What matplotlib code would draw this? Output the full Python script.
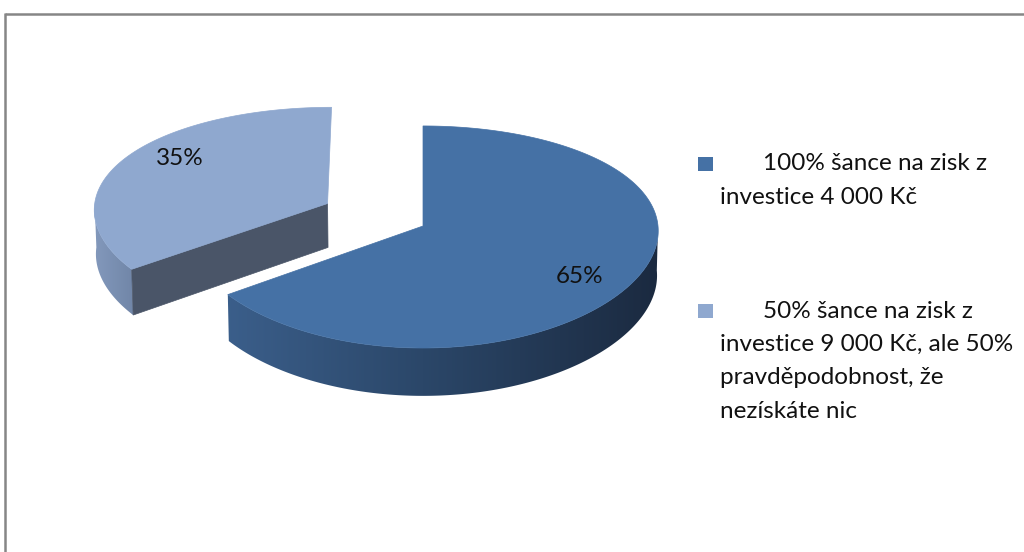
import numpy as np
import matplotlib
matplotlib.use("Agg")
import matplotlib.pyplot as plt
from matplotlib.patches import Polygon, Rectangle
from matplotlib.lines import Line2D
from matplotlib.colors import to_rgb

# ---- data ----
categories = [
    "100% šance na zisk z\ninvestice 4 000 Kč",
    "50% šance na zisk z\ninvestice 9 000 Kč, ale 50%\npravděpodobnost, že\nnezískáte nic",
]
values = [65, 35]
value_labels = ["65%", "35%"]

# ---- style ----
top_colors = ["#4571A5", "#8FA8CF"]
legend_colors = ["#4571A5", "#8FA8CF"]
side_stops = [["#3E6391", "#2B4769", "#1B2A40"], ["#8399BC", "#7186A8"]]
cut_colors = ["#2A3F5C", "#4A5568"]
explode = [0.0, 0.46]
FONT = "Lato"
FS = 17.5

W, H = 1024, 552
fig = plt.figure(figsize=(W / 100, H / 100), dpi=100)
ax = fig.add_axes([0, 0, 1, 1])

# ---- perspective camera for the 3-D pie ----
CX, CY = 423.0, 226.0          # screen position of pie centre
ELEV = np.radians(27.9)        # viewing elevation
DIST, FOC = 8.93, 2098.0       # camera distance / focal scale (vertical)
DIST_X, FOC_X = 20.0, 4700.0   # weaker horizontal convergence
THICK = 0.217                  # pie thickness (radius = 1)


def proj(X, Z, Y=0.0):
    """X: right, Z: depth (back positive), Y: up.  Returns screen (x, y)."""
    X, Z, Y = np.asarray(X, float), np.asarray(Z, float), np.asarray(Y, float)
    yc = Z * np.sin(ELEV) + Y * np.cos(ELEV)
    dz = Z * np.cos(ELEV) - Y * np.sin(ELEV)
    return CX + FOC_X * X / (DIST_X + dz), CY - FOC * yc / (DIST + dz)


def gradient_fill(poly_xy, stops, xmin, xmax):
    ys = poly_xy[:, 1]
    patch = Polygon(poly_xy, closed=True, facecolor="none", edgecolor="none")
    ax.add_patch(patch)
    n = 256
    t = np.linspace(0, 1, n)
    arr = np.array([to_rgb(s) for s in stops])
    pos = np.linspace(0, 1, len(stops))
    img = np.stack([np.interp(t, pos, arr[:, k]) for k in range(3)], axis=-1)[None, :, :]
    im = ax.imshow(img, extent=(xmin, xmax, ys.max() + 1, ys.min() - 1),
                   aspect="auto", interpolation="bilinear", zorder=1)
    im.set_clip_path(patch)


total = float(sum(values))
angles = []
a = 90.0
for v in values:
    sweep = 360.0 * v / total
    angles.append((a, a - sweep))
    a -= sweep

order = [1, 0]  # back slice first
for i in order:
    a1, a2 = angles[i]
    mid = np.radians((a1 + a2) / 2.0)
    c = np.array([explode[i] * np.cos(mid), explode[i] * np.sin(mid)])

    # outer side wall, front half only
    lo, hi = max(a2, -180.0), min(a1, 0.0)
    if hi > lo:
        th = np.radians(np.linspace(hi, lo, 300))
        X = c[0] + np.cos(th)
        Zd = c[1] + np.sin(th)
        tx, ty = proj(X, Zd, 0.0)
        bx, by = proj(X, Zd, -THICK)
        poly = np.column_stack([np.r_[tx, bx[::-1]], np.r_[ty, by[::-1]]])
        if i == 0:
            ex0, _ = proj(c[0] - 1, c[1])
            ex1, _ = proj(c[0] + 1, c[1])
        else:
            ex0, ex1 = poly[:, 0].min(), poly[:, 0].max()
        gradient_fill(poly, side_stops[i], ex0, ex1)

    # radial cut faces that face the viewer
    for edge_deg, is_start in ((a1, True), (a2, False)):
        e = np.radians(edge_deg)
        # slice interior lies at smaller angles than its start edge
        nrm = np.array([-np.sin(e), np.cos(e)]) if is_start else np.array([np.sin(e), -np.cos(e)])
        if nrm[1] < -0.05:  # points towards the viewer
            pX = [c[0], c[0] + np.cos(e), c[0] + np.cos(e), c[0]]
            pZ = [c[1], c[1] + np.sin(e), c[1] + np.sin(e), c[1]]
            pY = [0, 0, -THICK, -THICK]
            fx, fy = proj(pX, pZ, pY)
            ax.add_patch(Polygon(np.column_stack([fx, fy]), closed=True,
                                 facecolor=cut_colors[i], edgecolor=cut_colors[i],
                                 lw=0.5, zorder=2))

    # top face
    th = np.radians(np.linspace(a1, a2, 300))
    X = np.r_[c[0], c[0] + np.cos(th)]
    Zd = np.r_[c[1], c[1] + np.sin(th)]
    tx, ty = proj(X, Zd, 0.0)
    ax.add_patch(Polygon(np.column_stack([tx, ty]), closed=True,
                         facecolor=top_colors[i], edgecolor=top_colors[i],
                         lw=0.5, zorder=3))

    # data label
    la = mid - np.radians(7.0)
    lx, ly = proj(c[0] + 0.79 * np.cos(la), c[1] + 0.79 * np.sin(la), 0.0)
    ax.text(lx, ly, value_labels[i], ha="center", va="center",
            fontsize=FS, family=FONT, color="#111111", zorder=5)

# ---- legend (Excel-like, marker on first line) ----
leg_x_marker = 698
leg_x_text = 720
leg_indent = 763
line_h = 33.5
entry_top = [164, 311]
for i, lab in enumerate(categories):
    y0 = entry_top[i]
    ax.add_patch(Rectangle((leg_x_marker, y0 - 7.5), 14.5, 14.5,
                           facecolor=legend_colors[i], edgecolor="none", zorder=5))
    for j, line in enumerate(lab.split("\n")):
        x = leg_indent if j == 0 else leg_x_text
        ax.text(x, y0 + j * line_h, line, ha="left", va="center",
                fontsize=FS, family=FONT, color="#111111", zorder=5)

# ---- chart frame (top and left edges visible) ----
ax.add_line(Line2D([5, W + 5], [14, 14], color="#868686", lw=1.8, solid_capstyle="butt"))
ax.add_line(Line2D([5, 5], [13.2, H + 5], color="#868686", lw=1.8, solid_capstyle="butt"))

ax.set_xlim(0, W)
ax.set_ylim(H, 0)
ax.set_aspect("auto")
ax.axis("off")

fig.savefig("out.png", dpi=100)
